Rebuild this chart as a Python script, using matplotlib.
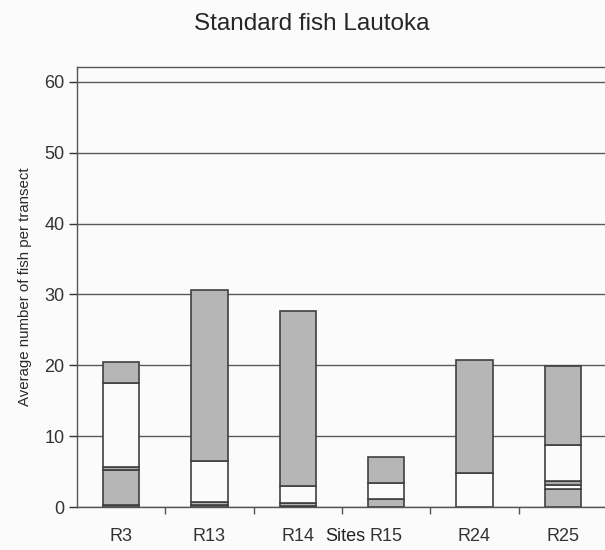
import numpy as np
import matplotlib.pyplot as plt
from matplotlib.transforms import blended_transform_factory

plt.rcParams['font.family'] = ['Liberation Sans', 'DejaVu Sans']

# sites on the x axis
sites = ['R3', 'R13', 'R14', 'R15', 'R24', 'R25']

# stacked segments, bottom to top
seg_a = [0.3, 0.3, 0.2, 0.0, 0.0, 0.0]      # gray
seg_b = [4.9, 0.45, 0.3, 1.1, 0.0, 2.6]     # gray
seg_c = [0.0, 0.0, 0.0, 0.0, 0.0, 0.5]      # white
seg_d = [0.5, 0.0, 0.0, 0.0, 0.0, 0.6]      # gray
seg_e = [11.8, 5.7, 2.4, 2.3, 4.8, 5.1]     # white
seg_f = [3.0, 24.15, 24.8, 3.6, 16.0, 11.1] # gray

segments = [seg_a, seg_b, seg_c, seg_d, seg_e, seg_f]
fills = ['#b6b6b6', '#b6b6b6', '#fbfbfb', '#a8a8a8', '#fbfbfb', '#b6b6b6']

fig = plt.figure(figsize=(6.05, 5.5), dpi=100)
fig.patch.set_facecolor('#fbfbfb')
ax = fig.add_axes([77 / 605, 43 / 550, 530 / 605, 440 / 550])
ax.set_facecolor('#fbfbfb')

x = np.arange(len(sites))
bottom = np.zeros(len(sites))
for vals, col in zip(segments, fills):
    vals = np.array(vals)
    ax.bar(x, vals, width=0.41, bottom=bottom, color=col,
           edgecolor='#404040', linewidth=1.2, zorder=3)
    bottom += vals

ax.set_xlim(-0.5, 5.5)
ax.set_ylim(0, 62.1)
ax.set_yticks(np.arange(0, 61, 10))
ax.yaxis.grid(True, color='#5a5a5a', linewidth=1.0, zorder=0)
ax.tick_params(axis='y', labelsize=13, colors='#333333', length=6, width=1, pad=3)

ax.set_xticks(x)
ax.set_xticklabels(sites)
ax.set_xticks(np.arange(0.5, 5.5, 1), minor=True)
ax.tick_params(axis='x', which='major', length=0, labelsize=13, colors='#333333', pad=15)
ax.tick_params(axis='x', which='minor', length=5, width=1, color='#555555')

for s in ['left', 'bottom', 'top']:
    ax.spines[s].set_color('#555555')
    ax.spines[s].set_linewidth(1.0)
ax.spines['right'].set_visible(False)

tr = blended_transform_factory(ax.transData, ax.transAxes)
ax.text(2.54, -0.066, 'Sites', transform=tr, ha='center', va='center',
        fontsize=13, color='#222222')

ax.set_ylabel('Average number of fish per transect', fontsize=10.8, color='#2a2a2a', labelpad=9)

fig.text(312 / 605, 1 - 24 / 550, 'Standard fish Lautoka', ha='center', va='center',
         fontsize=17.5, color='#262626')

fig.savefig('out.png', dpi=100, facecolor=fig.get_facecolor())
